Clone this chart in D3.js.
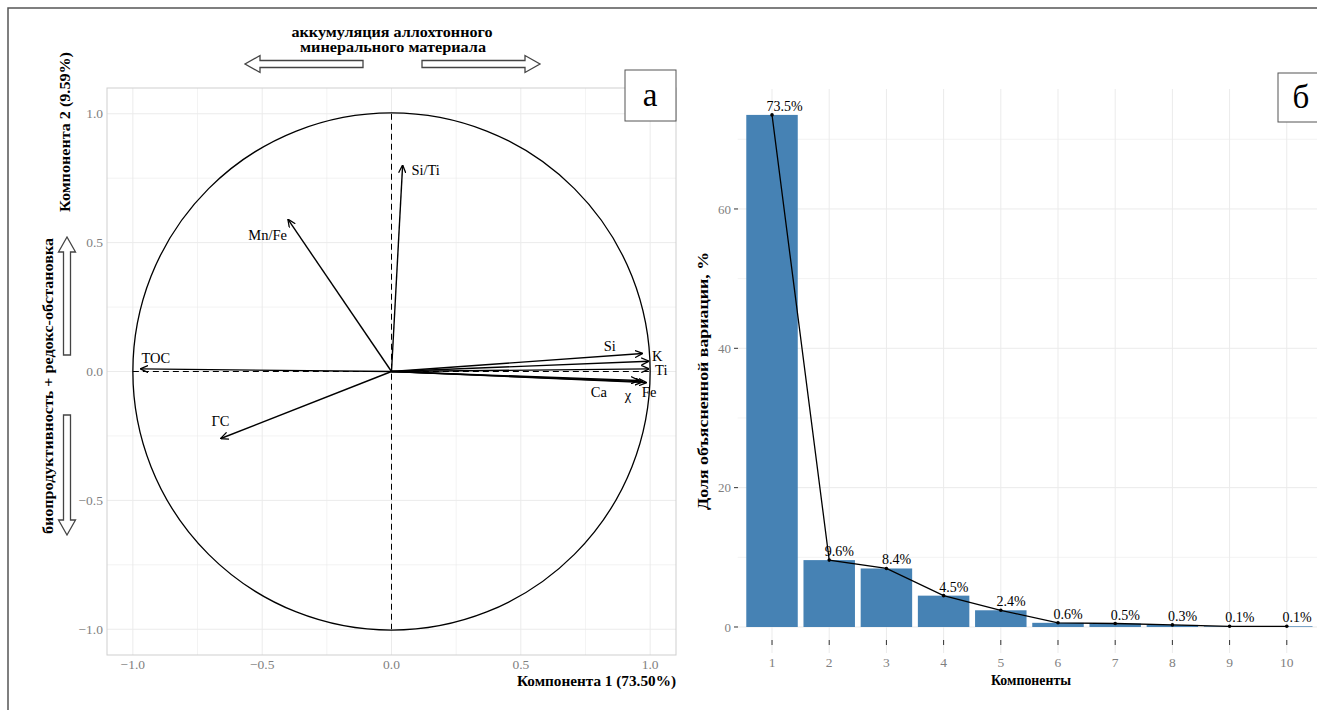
<html>
<head>
<meta charset="utf-8">
<script src="https://d3js.org/d3.v7.min.js"></script>
<style>
  body { margin: 0; background: white; }
  svg { font-family: "Liberation Serif", "DejaVu Serif", serif; }
</style>
</head>
<body>
<svg id="fig" width="1317" height="710"></svg>
<script>
// --- data ---
const varNames = ['Si/Ti', 'Mn/Fe', 'TOC', 'ГС', 'Si', 'K', 'Ti', 'Fe', 'χ', 'Ca'];
const varPC1 = [0.043, -0.40, -0.97, -0.66, 0.97, 0.995, 0.995, 0.985, 0.97, 0.955];
const varPC2 = [0.80, 0.59, 0.01, -0.26, 0.07, 0.04, 0.01, -0.043, -0.04, -0.035];
// label centres (in component units)
const labelPC1 = [0.132, -0.479, -0.911, -0.661, 0.844, 1.027, 1.043, 0.996, 0.914, 0.802];
const labelPC2 = [0.782, 0.529, 0.054, -0.191, 0.101, 0.062, 0.008, -0.078, -0.089, -0.078];
const pcaTicks = [-1.0, -0.5, 0.0, 0.5, 1.0];

const eigComponents = ['1', '2', '3', '4', '5', '6', '7', '8', '9', '10'];
const eigValues = [73.5, 9.6, 8.4, 4.5, 2.4, 0.6, 0.5, 0.3, 0.1, 0.1];
const eigTicks = [0, 20, 40, 60];

const svg = d3.select('#fig');
const grid = '#ebebeb', tickGrey = '#7f7f7f';

// outer frame
svg.append('path').attr('d', 'M8,712 L8,8 L1320,8')
  .attr('fill', 'none').attr('stroke', '#555').attr('stroke-width', 1.5);

// ================= panel a : correlation circle =================
const x = d3.scaleLinear().domain([-1.1, 1.1]).range([107, 676]);
const y = d3.scaleLinear().domain([-1.1, 1.1]).range([655, 88]);

let minor = d3.range(-1, 1.01, 0.25);
svg.append('g').selectAll('line.vx').data(minor).join('line')
  .attr('x1', d => x(d)).attr('x2', d => x(d)).attr('y1', y(1.1)).attr('y2', y(-1.1))
  .attr('stroke', grid).attr('stroke-width', d => Math.abs(d * 2 % 1) < 1e-6 ? 1 : 0.6);
svg.append('g').selectAll('line.hy').data(minor).join('line')
  .attr('y1', d => y(d)).attr('y2', d => y(d)).attr('x1', x(-1.1)).attr('x2', x(1.1))
  .attr('stroke', grid).attr('stroke-width', d => Math.abs(d * 2 % 1) < 1e-6 ? 1 : 0.6);

svg.append('rect').attr('x', x(-1.1)).attr('y', y(1.1))
  .attr('width', x(1.1) - x(-1.1)).attr('height', y(-1.1) - y(1.1))
  .attr('fill', 'none').attr('stroke', '#cfcfcf');

// axis ticks + labels
svg.append('g').selectAll('text').data(pcaTicks).join('text')
  .attr('x', d => x(d)).attr('y', y(-1.1) + 14).attr('text-anchor', 'middle')
  .attr('font-size', 13.5).attr('fill', tickGrey).text(d => d3.format('.1f')(d).replace('-', '−'));
svg.append('g').selectAll('text').data(pcaTicks).join('text')
  .attr('x', x(-1.1) - 4).attr('y', d => y(d)).attr('dy', '0.35em').attr('text-anchor', 'end')
  .attr('font-size', 13.5).attr('fill', tickGrey).text(d => d3.format('.1f')(d).replace('-', '−'));

// unit circle and dashed axes
svg.append('circle').attr('cx', x(0)).attr('cy', y(0)).attr('r', x(1) - x(0))
  .attr('fill', 'none').attr('stroke', 'black').attr('stroke-width', 1.3);
svg.append('line').attr('x1', x(0)).attr('x2', x(0)).attr('y1', y(1)).attr('y2', y(-1))
  .attr('stroke', 'black').attr('stroke-dasharray', '6,4');
svg.append('line').attr('x1', x(-1)).attr('x2', x(1)).attr('y1', y(0)).attr('y2', y(0))
  .attr('stroke', 'black').attr('stroke-dasharray', '6,4');

svg.append('defs').append('marker').attr('id', 'head')
  .attr('viewBox', '0 0 10 10').attr('refX', 9.5).attr('refY', 5)
  .attr('markerWidth', 8).attr('markerHeight', 8).attr('markerUnits', 'userSpaceOnUse')
  .attr('orient', 'auto')
  .append('path').attr('d', 'M0,0.5 L10,5 L0,9.5').attr('fill', 'none')
  .attr('stroke', 'black').attr('stroke-width', 1.6);

svg.append('g').selectAll('line').data(varNames).join('line')
  .attr('x1', x(0)).attr('y1', y(0))
  .attr('x2', (d, i) => x(varPC1[i])).attr('y2', (d, i) => y(varPC2[i]))
  .attr('stroke', 'black').attr('stroke-width', 1.4).attr('marker-end', 'url(#head)');

svg.append('g').selectAll('text').data(varNames).join('text')
  .attr('x', (d, i) => x(labelPC1[i])).attr('y', (d, i) => y(labelPC2[i]))
  .attr('dy', '0.35em').attr('text-anchor', 'middle').attr('font-size', 14.5)
  .text(d => d);

// axis titles (stretched to the lengths seen in the figure)
function title(tr, anchor, size, len, txt) {
  svg.append('text').attr('transform', tr).attr('text-anchor', anchor)
    .attr('font-size', size).attr('font-weight', 'bold')
    .attr('textLength', len).attr('lengthAdjust', 'spacingAndGlyphs').text(txt);
}
title('translate(676,686)', 'end', 15, 159, 'Компонента 1 (73.50%)');
title('translate(70,132) rotate(-90)', 'middle', 15, 160, 'Компонента 2 (9.59%)');
title('translate(53,386) rotate(-90)', 'middle', 15, 296, 'биопродуктивность + редокс-обстановка');
title('translate(392,37)', 'middle', 15, 201, 'аккумуляция аллохтонного');
title('translate(393,52)', 'middle', 15, 186, 'минерального материала');

// hollow block arrows
function blockArrow(x0, y0, x1, y1) {
  const L = Math.hypot(x1 - x0, y1 - y0), ux = (x1 - x0) / L, uy = (y1 - y0) / L;
  const pts = [[0, -3.5], [L - 15, -3.5], [L - 15, -8.5], [L, 0], [L - 15, 8.5], [L - 15, 3.5], [0, 3.5]]
    .map(([u, v]) => [x0 + u * ux - v * uy, y0 + u * uy + v * ux]);
  svg.append('path').attr('d', 'M' + pts.join('L') + 'Z')
    .attr('fill', 'white').attr('stroke', '#444').attr('stroke-width', 1.3);
}
blockArrow(363, 64, 245, 64);
blockArrow(422, 64, 540, 64);
blockArrow(67, 355, 67, 237);
blockArrow(67, 415, 67, 535);

svg.append('rect').attr('x', 625).attr('y', 70).attr('width', 51).attr('height', 51)
  .attr('fill', 'white').attr('stroke', '#555');
svg.append('text').attr('x', 650).attr('y', 106).attr('text-anchor', 'middle')
  .attr('font-size', 33).text('а');

// ================= panel б : scree plot =================
const xb = d3.scalePoint().domain(eigComponents).range([737.7, 1321.1]).padding(0.6);
const step = xb.step();
const yb = d3.scaleLinear().domain([-3.675, 77.175]).range([652.6, 89.3]);

svg.append('g').selectAll('line').data(d3.range(0, 71, 10)).join('line')
  .attr('x1', 737.7).attr('x2', 1321).attr('y1', d => yb(d)).attr('y2', d => yb(d))
  .attr('stroke', grid).attr('stroke-width', d => d % 20 === 0 ? 1 : 0.6);
svg.append('g').selectAll('line').data(eigComponents).join('line')
  .attr('x1', d => xb(d)).attr('x2', d => xb(d)).attr('y1', 89).attr('y2', 653)
  .attr('stroke', grid);

svg.append('g').selectAll('rect').data(eigValues).join('rect')
  .attr('x', (d, i) => xb(eigComponents[i]) - 0.45 * step).attr('width', 0.9 * step)
  .attr('y', d => yb(d)).attr('height', d => yb(0) - yb(d))
  .attr('fill', '#4682B4');

svg.append('path').datum(eigValues)
  .attr('d', d3.line().x((d, i) => xb(eigComponents[i])).y(d => yb(d)))
  .attr('fill', 'none').attr('stroke', 'black').attr('stroke-width', 1.3);
svg.append('g').selectAll('circle').data(eigValues).join('circle')
  .attr('cx', (d, i) => xb(eigComponents[i])).attr('cy', d => yb(d)).attr('r', 1.8)
  .attr('fill', 'black');

svg.append('g').selectAll('text').data(eigValues).join('text')
  .attr('x', (d, i) => xb(eigComponents[i])).attr('y', d => yb(d) - 4)
  .attr('font-size', 14).text(d => d.toFixed(1) + '%')
  .attr('dx', function () { return -0.15 * this.getComputedTextLength(); });

// ticks
svg.append('g').selectAll('text').data(eigTicks).join('text')
  .attr('x', 731).attr('y', d => yb(d)).attr('dy', '0.35em').attr('text-anchor', 'end')
  .attr('font-size', 13).attr('fill', tickGrey).text(d => d);
svg.append('g').selectAll('line').data(eigTicks).join('line')
  .attr('x1', 734).attr('x2', 738).attr('y1', d => yb(d)).attr('y2', d => yb(d))
  .attr('stroke', '#333');
svg.append('g').selectAll('text').data(eigComponents).join('text')
  .attr('x', d => xb(d)).attr('y', 667).attr('text-anchor', 'middle')
  .attr('font-size', 13.5).attr('fill', tickGrey).text(d => d);
svg.append('g').selectAll('line').data(eigComponents).join('line')
  .attr('x1', d => xb(d)).attr('x2', d => xb(d)).attr('y1', 640).attr('y2', 645)
  .attr('stroke', '#333');

title('translate(1031,685)', 'middle', 14.5, 80, 'Компоненты');
title('translate(708,381) rotate(-90)', 'middle', 15, 258, 'Доля объясненной вариации, %');

svg.append('rect').attr('x', 1278).attr('y', 73).attr('width', 60).attr('height', 49)
  .attr('fill', 'white').attr('stroke', '#555');
svg.append('text').attr('x', 1301).attr('y', 108).attr('text-anchor', 'middle')
  .attr('font-size', 33).text('б');
</script>
</body>
</html>
